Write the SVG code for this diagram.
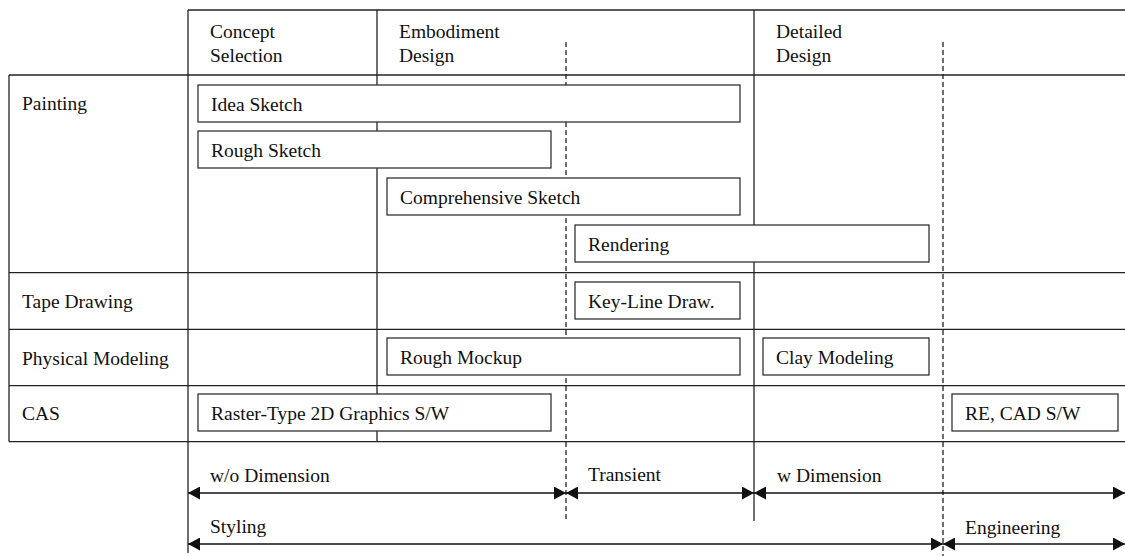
<svg xmlns="http://www.w3.org/2000/svg" width="1125" height="556" viewBox="0 0 1125 556">
<style>
.grid{stroke:#222;stroke-width:1.3;fill:none}
.dash{stroke:#222;stroke-width:1.3;stroke-dasharray:5,3;fill:none}
.box{fill:#fff;stroke:#333;stroke-width:1.3}
.t{font-family:"Liberation Serif","Times New Roman",serif;font-size:19.5px;fill:#111}
.arr{stroke:#111;stroke-width:1.4;fill:none;marker-start:url(#ah);marker-end:url(#ah)}
</style>
<defs>
<marker id="ah" viewBox="0 0 12 13" refX="12" refY="6.5" markerWidth="12" markerHeight="13" markerUnits="userSpaceOnUse" orient="auto-start-reverse">
<path d="M0,0 L12,6.5 L0,13 z" fill="#111"/>
</marker>
</defs>
<rect width="1125" height="556" fill="#fff"/>
<g id="table">
<line class="grid" x1="188" y1="10" x2="1125" y2="10"/>
<line class="grid" x1="9" y1="75" x2="1125" y2="75"/>
<line class="grid" x1="9" y1="272.7" x2="1125" y2="272.7"/>
<line class="grid" x1="9" y1="329.3" x2="1125" y2="329.3"/>
<line class="grid" x1="9" y1="385.7" x2="1125" y2="385.7"/>
<line class="grid" x1="9" y1="441.7" x2="1125" y2="441.7"/>
<line class="grid" x1="9" y1="75" x2="9" y2="441.7"/>
<line class="grid" x1="188" y1="10" x2="188" y2="553"/>
<line class="grid" x1="377" y1="10" x2="377" y2="441.7"/>
<line class="grid" x1="754" y1="10" x2="754" y2="521"/>
<line class="dash" x1="566" y1="42" x2="566" y2="521"/>
<line class="dash" x1="943" y1="42" x2="943" y2="556"/>
</g>
<g id="headers">
<text class="t" x="210" y="38">Concept</text>
<text class="t" x="210" y="62">Selection</text>
<text class="t" x="399" y="38">Embodiment</text>
<text class="t" x="399" y="62">Design</text>
<text class="t" x="776" y="38">Detailed</text>
<text class="t" x="776" y="62">Design</text>
</g>
<g id="rows">
<text class="t" x="22" y="110">Painting</text>
<text class="t" x="22" y="308">Tape Drawing</text>
<text class="t" x="22" y="365">Physical Modeling</text>
<text class="t" x="22" y="420">CAS</text>
</g>
<g id="idea-sketch"><rect class="box" x="198" y="85" width="542" height="37"/><text class="t" x="211" y="110.5">Idea Sketch</text></g>
<g id="rough-sketch"><rect class="box" x="198" y="131" width="353" height="37"/><text class="t" x="211" y="156.5">Rough Sketch</text></g>
<g id="comprehensive-sketch"><rect class="box" x="387" y="178" width="353" height="37"/><text class="t" x="400" y="203.5">Comprehensive Sketch</text></g>
<g id="rendering"><rect class="box" x="575" y="225" width="354" height="37"/><text class="t" x="588" y="250.5">Rendering</text></g>
<g id="key-line"><rect class="box" x="575" y="282" width="165" height="37"/><text class="t" x="588" y="307.5">Key-Line Draw.</text></g>
<g id="rough-mockup"><rect class="box" x="387" y="338" width="353" height="37"/><text class="t" x="400" y="363.5">Rough Mockup</text></g>
<g id="clay-modeling"><rect class="box" x="763" y="338" width="166" height="37"/><text class="t" x="776" y="363.5">Clay Modeling</text></g>
<g id="raster"><rect class="box" x="198" y="394" width="353" height="37"/><text class="t" x="211" y="419.5">Raster-Type 2D Graphics S/W</text></g>
<g id="re-cad"><rect class="box" x="952" y="394" width="166" height="37"/><text class="t" x="965" y="419.5">RE, CAD S/W</text></g>
<g id="connectors">
<line class="arr" x1="188" y1="493" x2="566" y2="493"/>
<line class="arr" x1="566" y1="493" x2="754" y2="493"/>
<line class="arr" x1="754" y1="493" x2="1125" y2="493"/>
<line class="arr" x1="188" y1="544" x2="943" y2="544"/>
<line class="arr" x1="943" y1="544" x2="1125" y2="544"/>
</g>
<g id="arrow-labels">
<text class="t" x="210" y="482">w/o Dimension</text>
<text class="t" x="588" y="481">Transient</text>
<text class="t" x="777" y="482">w Dimension</text>
<text class="t" x="210" y="533">Styling</text>
<text class="t" x="965" y="534">Engineering</text>
</g>
</svg>
